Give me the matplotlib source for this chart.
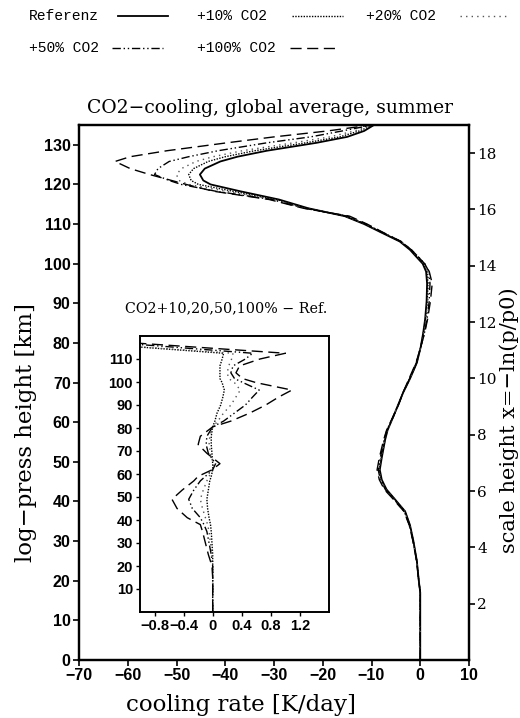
import matplotlib
matplotlib.use("Agg")
import matplotlib.pyplot as plt
from matplotlib.lines import Line2D

# ---------------- data: main panel (cooling rate, K/day) ----------------
height_km = [0, 10, 17, 20, 25, 30, 34, 37.5, 41, 43, 45.5, 48, 51, 55.6, 58, 61.5,
             64.5, 67.5, 71, 75, 79, 82.5, 86, 90.5, 95, 98, 100, 102, 103.5, 105.6,
             108, 110, 112, 114, 116.2, 118.3, 120, 121, 122.5, 124, 125.8, 127,
             128.5, 130.5, 132, 133.5, 135]

ref = [0, 0, 0, -0.3, -0.7, -1.4, -2.1, -3.1, -5.5, -6.9, -7.9, -8.3, -7.9, -7.2, -6.7, -5.5,
       -4.5, -3.5, -2.1, -0.7, 0.1, 0.6, 1.0, 1.3, 1.4, 1.2, 0.5, -1.0, -2.1, -4.2,
       -8.2, -11.5, -15.5, -23, -29, -37, -43, -44.5, -45.2, -44.2, -41, -37.5,
       -31.5, -21.3, -15, -11.5, -9.5]

co2_10 = [0, 0, 0, -0.3, -0.7, -1.41, -2.12, -3.14, -5.56, -6.97, -7.98, -8.38, -7.97, -7.24, -6.73, -5.5,
          -4.5, -3.5, -2.12, -0.72, 0.1, 0.65, 1.09, 1.42, 1.59, 1.37, 0.67, -0.84, -1.94, -4.06,
          -8.06, -11.36, -15.33, -23.2, -29.5, -38.5, -45.5, -47, -47.5, -46.5, -43.5, -40,
          -34, -23.5, -16.5, -12.5, -9.6]

co2_20 = [0, 0, 0, -0.3, -0.72, -1.43, -2.16, -3.22, -5.63, -7.05, -8.07, -8.47, -8.05, -7.3, -6.77, -5.5,
          -4.5, -3.52, -2.15, -0.75, 0.1, 0.7, 1.14, 1.55, 1.8, 1.55, 0.76, -0.74, -1.84, -3.94,
          -7.94, -11.2, -15.2, -23.5, -30, -40, -47.5, -49.5, -50, -49, -46, -42.5,
          -36.5, -26, -18.5, -13.5, -9.7]

co2_50 = [0, 0, 0, -0.3, -0.72, -1.46, -2.2, -3.3, -5.68, -7.15, -8.2, -8.62, -8.2, -7.4, -6.85, -5.5,
          -4.47, -3.52, -2.19, -0.8, 0.1, 0.85, 1.4, 1.83, 2.0, 1.8, 0.91, -0.62, -1.82, -3.92,
          -7.92, -11.1, -14.95, -23.8, -30.5, -42, -49, -51.5, -54.5, -53.8, -51.5, -47.5,
          -41.5, -31.5, -22.5, -16, -9.8]

co2_100 = [0, 0, 0, -0.3, -0.76, -1.5, -2.25, -3.35, -5.85, -7.35, -8.4, -8.85, -8.4, -7.5, -6.9, -5.55,
           -4.4, -3.53, -2.3, -0.87, 0.1, 0.9, 1.5, 2.08, 2.45, 1.85, 0.91, -0.62, -1.82, -3.92,
           -7.79, -10.9, -14.5, -24, -31, -42.5, -48, -51, -55.5, -59.5, -62.6, -59.5,
           -52, -39.7, -30, -19, -10]

# ---------------- data: inset (difference to reference, K/day) ----------------
inset_height = [0, 15, 20, 25, 30, 35, 38, 41, 45, 49, 53, 57, 59, 61.8, 64.5, 69, 72.8,
                76.4, 80.5, 83, 86.5, 90, 93.5, 96.5, 99.7, 101.5, 104, 107, 110, 112.5, 118]

d_10 = [0, 0, 0, 0, -0.01, -0.02, -0.03, -0.05, -0.07, -0.08, -0.06, -0.04, -0.02, 0.0, 0.0, -0.01, -0.02,
        -0.02, 0.0, 0.03, 0.06, 0.11, 0.14, 0.16, 0.13, 0.1, 0.1, 0.1, 0.13, 0.15, -2.2]
d_20 = [0, 0, 0, -0.01, -0.03, -0.05, -0.07, -0.1, -0.14, -0.17, -0.13, -0.08, -0.05, 0.0, 0.01, -0.03, -0.05,
        -0.04, 0.0, 0.07, 0.15, 0.25, 0.32, 0.38, 0.3, 0.22, 0.2, 0.22, 0.26, 0.28, -2.3]
d_50 = [0, 0, 0, -0.02, -0.05, -0.08, -0.12, -0.17, -0.28, -0.33, -0.26, -0.17, -0.1, 0.0, 0.04, -0.06, -0.09,
        -0.08, 0.0, 0.15, 0.3, 0.45, 0.55, 0.64, 0.42, 0.3, 0.25, 0.28, 0.45, 0.55, -1.7]
d_100 = [0, 0, -0.01, -0.06, -0.1, -0.14, -0.17, -0.35, -0.49, -0.56, -0.42, -0.26, -0.2, -0.01, 0.1, -0.08, -0.2,
         -0.17, 0.0, 0.25, 0.51, 0.73, 0.91, 1.09, 0.6, 0.41, 0.32, 0.37, 0.65, 1.0, -1.55]

labels = ["Referenz", "+10% CO2", "+20% CO2", "+50% CO2", "+100% CO2"]
main_xticks = [-70, -60, -50, -40, -30, -20, -10, 0, 10]
main_yticks = [0, 10, 20, 30, 40, 50, 60, 70, 80, 90, 100, 110, 120, 130]
right_ticks = [2, 4, 6, 8, 10, 12, 14, 16, 18]
inset_xticks = [-0.8, -0.4, 0, 0.4, 0.8, 1.2]
inset_xlabels = ["\u22120.8", "\u22120.4", "0", "0.4", "0.8", "1.2"]
inset_yticks = [10, 20, 30, 40, 50, 60, 70, 80, 90, 100, 110]

# ---------------- styles ----------------
styles = [
    dict(ls="-", color="black", lw=1.3),
    dict(ls=(0, (1, 1)), color="black", lw=1.0),
    dict(ls=(0, (1, 3)), color="#555555", lw=1.0),
    dict(ls=(0, (6, 2, 1, 2, 1, 2)), color="black", lw=1.0),
    dict(ls=(0, (8, 4)), color="black", lw=1.0),
]

SERIF = ["DejaVu Serif"]
MONO = ["Liberation Mono", "DejaVu Sans Mono"]
TICKF = ["Liberation Sans", "DejaVu Sans"]

fig = plt.figure(figsize=(5.2, 7.18), dpi=100)
W, H = 520.0, 718.0

ax = fig.add_axes([79 / W, 1 - 660 / H, 390 / W, 535 / H])
series = [ref, co2_10, co2_20, co2_50, co2_100]
for s, st in zip(series, styles):
    ax.plot(s, height_km, **st)
ax.set_xlim(-70, 10)
ax.set_ylim(0, 135)
ax.set_xticks(main_xticks)
ax.set_xticklabels([("\u2212" + str(-t)) if t < 0 else str(t) for t in main_xticks],
                   family=TICKF, fontweight="bold", fontsize=11.5)
ax.set_yticks(main_yticks)
ax.set_yticklabels([str(t) for t in main_yticks], family=TICKF, fontweight="bold", fontsize=11.5)
ax.tick_params(direction="out", length=4, width=1.2, pad=2)
for sp in ax.spines.values():
    sp.set_linewidth(1.6)

ax2 = ax.twinx()
ax2.set_ylim(0, 19)
ax2.set_yticks(right_ticks)
ax2.set_yticklabels([str(t) for t in right_ticks], family=SERIF, fontsize=11)
ax2.tick_params(direction="out", length=4, width=1.2, pad=2)
for sp in ax2.spines.values():
    sp.set_linewidth(1.6)

# titles and axis labels placed in figure pixels
fig.text(270 / W, 1 - 108 / H, "CO2\u2212cooling, global average, summer", family=SERIF,
         fontsize=13.5, ha="center", va="center")
fig.text(241 / W, 1 - 705 / H, "cooling rate [K/day]", family=SERIF, fontsize=16.5,
         ha="center", va="center")
fig.text(26 / W, 1 - 432 / H, "log\u2212press height [km]", family=SERIF, fontsize=16.5,
         ha="center", va="center", rotation=90)
fig.text(509 / W, 1 - 420 / H, "scale height x=\u2212ln(p/p0)", family=SERIF, fontsize=15,
         ha="center", va="center", rotation=90)

# inset
ax3 = fig.add_axes([140 / W, 1 - 612 / H, 189 / W, 276 / H])
for s, st in zip([d_10, d_20, d_50, d_100], styles[1:]):
    ax3.plot(s, inset_height, **st)
ax3.set_xlim(-1.0, 1.6)
ax3.set_ylim(0, 120)
ax3.set_xticks(inset_xticks)
ax3.set_xticklabels(inset_xlabels, family=TICKF, fontweight="bold", fontsize=10.5)
ax3.set_yticks(inset_yticks)
ax3.set_yticklabels([str(t) for t in inset_yticks], family=TICKF, fontweight="bold", fontsize=10.5)
ax3.tick_params(direction="out", length=3, width=1.0, pad=2)
for sp in ax3.spines.values():
    sp.set_linewidth(1.4)
fig.text(226 / W, 1 - 308 / H, "CO2+10,20,50,100% \u2212 Ref.", family=SERIF,
         fontsize=10.3, ha="center", va="center")

# legend (drawn by hand in figure pixels)
legend_items = [
    (29, 16, 118, 168),
    (197, 16, 292, 343),
    (366, 16, 460, 510),
    (29, 48, 112, 163),
    (197, 48, 290, 340),
]
for lab, st, (tx, ty, x0, x1) in zip(labels, styles, legend_items):
    fig.text(tx / W, 1 - ty / H, lab, family=MONO, fontsize=10.5, ha="left", va="center")
    fig.add_artist(Line2D([x0 / W, x1 / W], [1 - ty / H, 1 - ty / H],
                          transform=fig.transFigure, **st))

fig.savefig("out.png", dpi=100)
